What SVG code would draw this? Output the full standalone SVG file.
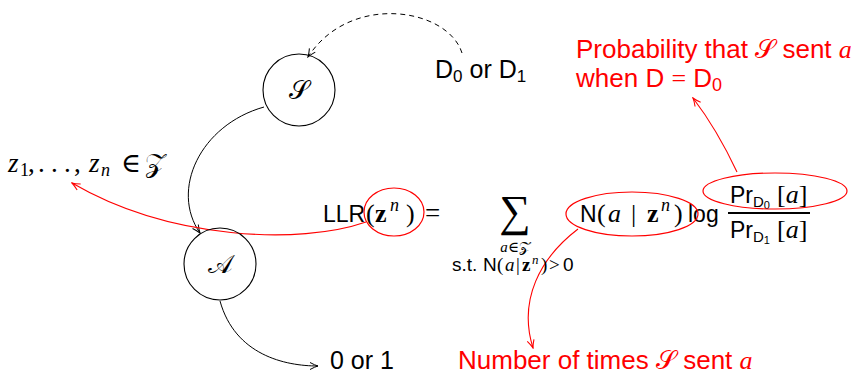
<svg xmlns="http://www.w3.org/2000/svg" width="858" height="375" viewBox="0 0 858 375">
<style>
.node{fill:none;stroke:#000;stroke-width:1.1}
.sans{font-family:"Liberation Sans",Arial,sans-serif}
.serif{font-family:"Liberation Serif","DejaVu Serif",serif}
.it{font-family:"Liberation Serif","DejaVu Serif",serif;font-style:italic}
.bf{font-family:"Liberation Serif","DejaVu Serif",serif;font-weight:bold}
.scr{font-family:"DejaVu Serif","DejaVu Sans","Noto Sans",serif;font-style:normal}
.red{fill:#f00}
.conn{fill:none;stroke:#000;stroke-width:1}
.dash{stroke-dasharray:5,4}
.rconn{fill:none;stroke:#f00;stroke-width:1.1}
.rell{fill:none;stroke:#f00;stroke-width:1.2}
</style>
<defs>
<marker id="ab" viewBox="0 0 10 10" refX="9" refY="5" markerWidth="10" markerHeight="10" markerUnits="userSpaceOnUse" orient="auto">
<path d="M1,1.5 Q6,4.2 9,5 Q6,5.8 1,8.5" fill="none" stroke="#000" stroke-width="1"/>
</marker>
<marker id="ar" viewBox="0 0 10 10" refX="9" refY="5" markerWidth="10" markerHeight="10" markerUnits="userSpaceOnUse" orient="auto">
<path d="M1,1.5 Q6,4.2 9,5 Q6,5.8 1,8.5" fill="none" stroke="#f00" stroke-width="1.1"/>
</marker>
</defs>
<rect width="858" height="375" fill="#fff"/>

<g id="connectors">
<path class="conn dash" d="M462,53 C448,8 350,-8 308,57" marker-end="url(#ab)"/>
<path class="conn" d="M264,107 C200,125 170,190 200,233" marker-end="url(#ab)"/>
<path class="conn" d="M220,301 C235,355 285,366 318,366" marker-end="url(#ab)"/>
<path class="rconn" d="M366,222 C300,245 170,240 72,183" marker-end="url(#ar)"/>
<path class="rconn" d="M737,172 C722,140 706,115 693,98" marker-end="url(#ar)"/>
<path class="rconn" d="M578,229 C540,258 518,300 533,348" marker-end="url(#ar)"/>
</g>

<g id="node-S">
<circle class="node" cx="299" cy="90" r="36"/>
<text class="scr" x="299" y="99" font-size="26" text-anchor="middle">𝒮</text>
</g>

<g id="node-A">
<circle class="node" cx="220" cy="264" r="36"/>
<text class="scr" x="220" y="273" font-size="26" text-anchor="middle">𝒜</text>
</g>

<g id="label-D">
<text class="sans" x="435" y="78" font-size="25">D<tspan font-size="17" dy="4">0</tspan><tspan dy="-4"> or D</tspan><tspan font-size="17" dy="4">1</tspan></text>
</g>

<g id="label-out">
<text class="sans" x="330" y="369" font-size="25">0 or 1</text>
</g>

<g id="label-z">
<text x="8" y="172" font-size="27"><tspan class="it">z</tspan><tspan class="serif" font-size="18" x="20" dy="4">1</tspan><tspan class="serif" x="28" dy="-4">,</tspan><tspan class="serif" x="38">.</tspan><tspan class="serif" x="51">.</tspan><tspan class="serif" x="64">.</tspan><tspan class="serif" x="74">,</tspan><tspan class="it" x="89">z</tspan><tspan class="it" font-size="18" x="101" dy="4">n</tspan><tspan class="serif" x="121" dy="-4">∈</tspan><tspan class="scr" x="145">𝒵</tspan></text>
</g>

<g id="formula">
<text class="sans" x="323" y="222" font-size="23">LLR</text>
<text class="serif" x="366" y="222" font-size="26">(</text>
<text class="bf" x="375" y="222" font-size="26">z</text>
<text class="it" x="390" y="211" font-size="18">n</text>
<text class="serif" x="406" y="222" font-size="26">)</text>
<text class="serif" x="425" y="222" font-size="27">=</text>
<text class="serif" x="515" y="226" font-size="44" text-anchor="middle">∑</text>
<text x="515" y="252" font-size="15" text-anchor="middle"><tspan class="it">a</tspan><tspan class="serif">∈</tspan><tspan class="scr">𝒵</tspan></text>
<text x="452" y="271" font-size="19"><tspan class="sans">s.t.</tspan><tspan class="sans" x="483">N</tspan><tspan class="serif" x="497">(</tspan><tspan class="it" x="505">a</tspan><tspan class="serif" x="516">|</tspan><tspan class="bf" x="522">z</tspan><tspan class="it" font-size="13" x="532" dy="-7">n</tspan><tspan class="serif" x="541" dy="7">)</tspan><tspan class="serif" x="549">&gt;</tspan><tspan class="sans" x="563">0</tspan></text>
<text class="sans" x="580" y="222" font-size="23">N</text>
<text class="serif" x="597" y="222" font-size="26">(</text>
<text class="it" x="608" y="222" font-size="26">a</text>
<text class="serif" x="631" y="222" font-size="26">|</text>
<text class="bf" x="647" y="222" font-size="26">z</text>
<text class="it" x="661" y="211" font-size="18">n</text>
<text class="serif" x="674" y="222" font-size="26">)</text>
<text class="sans" x="688" y="222" font-size="23">log</text>
<text class="sans" x="730" y="203" font-size="23">Pr<tspan font-size="15" dy="4">D</tspan><tspan font-size="11" dy="2">0</tspan></text>
<text class="serif" x="777" y="203" font-size="26">[<tspan class="it">a</tspan>]</text>
<line x1="728" y1="213" x2="810" y2="213" stroke="#000" stroke-width="2"/>
<text class="sans" x="730" y="238" font-size="23">Pr<tspan font-size="15" dy="4">D</tspan><tspan font-size="11" dy="2">1</tspan></text>
<text class="serif" x="777" y="238" font-size="26">[<tspan class="it">a</tspan>]</text>
</g>

<g id="highlights">
<ellipse class="rell" cx="394" cy="212" rx="30" ry="24"/>
<ellipse class="rell" cx="632" cy="214" rx="66" ry="22"/>
<ellipse class="rell" cx="775" cy="191" rx="72" ry="18"/>
</g>

<g id="note-prob">
<text class="sans red" x="576" y="58" font-size="26">Probability that <tspan class="scr">𝒮</tspan> sent <tspan class="it">a</tspan></text>
<text class="sans red" x="576" y="87" font-size="26">when D <tspan class="serif">=</tspan> D<tspan font-size="18" dy="4">0</tspan></text>
</g>

<g id="note-count">
<text class="sans red" x="458" y="369" font-size="26">Number of times <tspan class="scr">𝒮</tspan> sent <tspan class="it">a</tspan></text>
</g>
</svg>
